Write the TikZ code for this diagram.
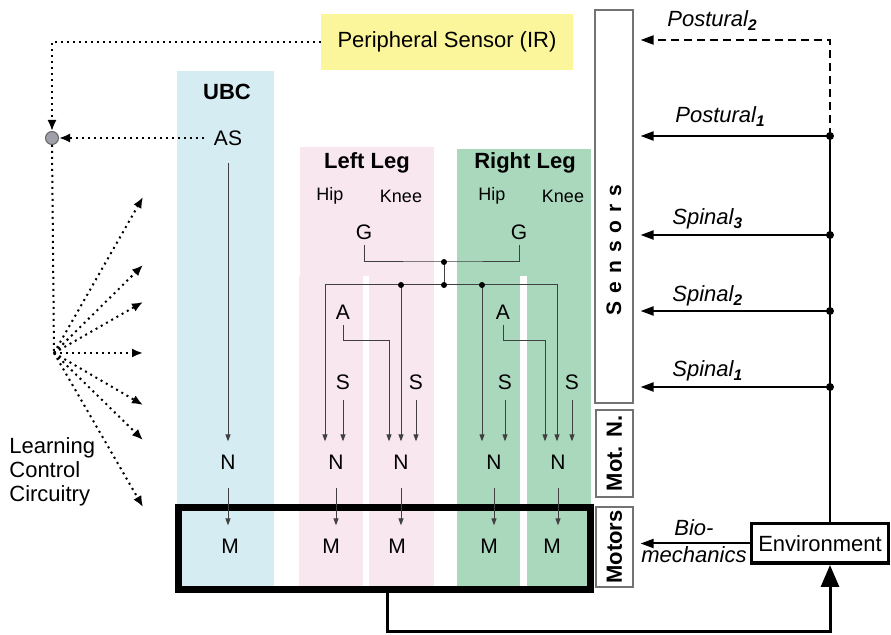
\documentclass[tikz,border=0pt]{standalone}
\usepackage{fontspec}
\setmainfont{Liberation Sans}
\usetikzlibrary{arrows.meta}

\definecolor{ubcblue}{RGB}{214,236,243}
\definecolor{legpink}{RGB}{249,231,240}
\definecolor{leggreen}{RGB}{170,216,189}
\definecolor{iryellow}{RGB}{251,245,155}
\definecolor{hubgray}{RGB}{160,160,170}

\begin{document}
\begin{tikzpicture}[x=0.5pt,y=-0.5pt,
    txt/.style={font=\fontsize{10.5}{12}\selectfont,inner sep=2pt},
    cell/.style={txt,inner xsep=2pt,inner ysep=6.5pt},
    gate/.style={txt,inner sep=2.6pt},
    sns/.style={txt,inner sep=5pt},
    joint/.style={font=\fontsize{9}{11}\selectfont,inner sep=2pt},
    title/.style={font=\bfseries\fontsize{11}{13}\selectfont,inner sep=2pt},
    sig/.style={font=\itshape\fontsize{11}{13}\selectfont,inner sep=2pt},
    panel/.style={draw=black!55,line width=0.6pt,inner sep=0pt},
    wire/.style={draw=black!75,line width=0.5pt,-{Triangle[length=3.5pt,width=2.5pt]}},
    link/.style={draw=black!75,line width=0.5pt},
    dot/.style={circle,fill=black,inner sep=0pt,minimum size=3pt},
    bigdot/.style={circle,fill=black,inner sep=0pt,minimum size=4pt},
    feed/.style={line width=1pt,-{Triangle[length=6.5pt,width=4.5pt]},shorten >=3.5pt},
    learn/.style={line width=1pt,dash pattern=on 1pt off 2pt,-{Latex[length=5.5pt,width=4.5pt]}}]

    \useasboundingbox (0,0) rectangle (891,635);
    % bands ==================================================
    \fill[ubcblue]  (177,71)  rectangle (274,586);
    \fill[legpink]  (300,147) rectangle (434,276);
    \fill[legpink]  (299,276) rectangle (363,586);
    \fill[legpink]  (369,276) rectangle (434,586);
    \fill[leggreen] (457,149) rectangle (591,276);
    \fill[leggreen] (457,276) rectangle (520,586);
    \fill[leggreen] (527,276) rectangle (591,586);
    % learning loop ==========================================
    \node[txt,fill=iryellow,minimum width=126pt,minimum height=28pt,font=\fontsize{11}{13}\selectfont] (PS) at (447,42) {Peripheral Sensor (IR)};
    \node[circle,draw=black!60,fill=hubgray,inner sep=0pt,minimum size=6.5pt,line width=0.5pt] (hub) at (52,138) {};
    \coordinate (fan) at (54,353);
    \node[txt,font=\fontsize{11}{12}\selectfont,align=left,anchor=west] (LCC) at (5,472) {Learning\\Control\\Circuitry};
    % UBC ====================================================
    \node[title] (UBC) at (227,92)  {UBC};
    \node[cell]  (AS)  at (228,138) {AS};
    \node[cell]  (N0)  at (228,462) {N};
    \node[cell]  (M0)  at (230,546) {M};
    % legs ===================================================
    \node[title] (LL)    at (367,163) {Left Leg};
    \node[title] (RL)    at (525,163) {Right Leg};
    \node[joint] (LHip)  at (330,196) {Hip};
    \node[joint] (LKnee) at (401,196) {Knee};
    \node[joint] (RHip)  at (492,196) {Hip};
    \node[joint] (RKnee) at (563,196) {Knee};
    \node[gate]  (LG)    at (364,232) {G};
    \node[gate]  (RG)    at (519,232) {G};
    \node[gate]  (LA)    at (343,312) {A};
    \node[gate]  (RA)    at (503,312) {A};
    \node[sns]   (LS1)   at (343,382) {S};
    \node[sns]   (LS2)   at (416,382) {S};
    \node[sns]   (RS1)   at (505,382) {S};
    \node[sns]   (RS2)   at (572,382) {S};
    \node[cell]  (N1)    at (336,462) {N};
    \node[cell]  (N2)    at (401,462) {N};
    \node[cell]  (N3)    at (494,462) {N};
    \node[cell]  (N4)    at (558,462) {N};
    \node[cell]  (M1)    at (331,546) {M};
    \node[cell]  (M2)    at (397,546) {M};
    \node[cell]  (M3)    at (489,546) {M};
    \node[cell]  (M4)    at (552,546) {M};
    \node[draw,line width=3.5pt,inner sep=0pt,minimum width=206pt,minimum height=40.75pt] (MG) at (384.5,548.75) {};
    % sensors side ===========================================
    \node[panel,minimum width=19pt,minimum height=196.5pt] (SensB) at (614,206.5) {};
    \node[font=\bfseries\fontsize{10.5}{12}\selectfont,rotate=90,inner sep=0pt] (SensT) at (614,250) {\addfontfeature{LetterSpace=38}Sensors};
    \node[panel,rotate=90,minimum width=43.5pt,minimum height=18.5pt,font=\bfseries\fontsize{11}{13}\selectfont] (MotN) at (614.5,453.5) {Mot. N.};
    \node[panel,rotate=90,minimum width=40pt,minimum height=18.5pt,font=\bfseries\fontsize{11}{13}\selectfont] (MotB) at (614.5,547) {Motors};
    \node[draw,line width=1.75pt,minimum width=67.25pt,minimum height=19.75pt,font=\fontsize{11}{13}\selectfont] (Env) at (820,543.5) {Environment};
    \node[sig,align=center,font=\itshape\fontsize{11}{13.5}\selectfont] (bio) at (694,541) {Bio-\\mechanics};
    \node[sig,anchor=base west] (P2) at (663,27)  {Postural\textsubscript{\textbf{2}}};
    \node[sig,anchor=base west] (P1) at (671,123) {Postural\textsubscript{\textbf{1}}};
    \node[sig,anchor=base west] (S3) at (668,225) {Spinal\textsubscript{\textbf{3}}};
    \node[sig,anchor=base west] (S2) at (668,302) {Spinal\textsubscript{\textbf{2}}};
    \node[sig,anchor=base west] (S1) at (668,377) {Spinal\textsubscript{\textbf{1}}};
    % learning connectors
    \draw[learn] (PS.west) -| (hub.north);
    \draw[learn,shorten <=3pt] (AS.west) -- (hub.east);
    \draw[learn,-] (hub.south) -- (fan);
    \foreach \y [count=\i] in {197,265,302,353,405,440,507}{
        \coordinate (lc\i) at (143,\y);
        \draw[learn] (fan) -- (lc\i);}
    % UBC wiring
    \draw[wire,shorten <=2pt] (AS.south) -- (N0.north);
    \draw[wire,shorten <=2.5pt] (N0.south) -- (N0.south |- M0.north);
    % leg wiring
    \coordinate (gj) at (444,262);
    \coordinate (hj) at (444,285);
    \coordinate (lb) at (325,285); \coordinate (rb) at (557,285);
    \coordinate (b2) at (401,285); \coordinate (b3) at (482,285);
    \coordinate (la) at (389,341); \coordinate (ra) at (545,341);
    \draw[link] (LG.south) |- (gj) -| (RG.south);
    \draw[link] (gj) -- (hj);
    \draw[wire] (hj) -| (lb |- N1.north);
    \draw[wire] (hj) -| (rb |- N4.north);
    \draw[wire] (b2) -- (b2 |- N2.north);
    \draw[wire] (b3) -- (b3 |- N3.north);
    \draw[wire] (LA.south) |- (la) -- (la |- N2.north);
    \draw[wire] (RA.south) |- (ra) -- (ra |- N4.north);
    \draw[wire] (LS1.south) -- (LS1.south |- N1.north);
    \draw[wire] (LS2.south) -- (LS2.south |- N2.north);
    \draw[wire] (RS1.south) -- (RS1.south |- N3.north);
    \draw[wire] (RS2.south) -- (RS2.south |- N4.north);
    \foreach \n in {1,...,4} \draw[wire,shorten <=2.5pt] (N\n.south) -- (N\n.south |- M\n.north);
    \foreach \p in {gj,hj,b2,b3} \node[dot] at (\p) {};
    % feedback ===============================================
    \coordinate (pt1) at (830,136);
    \coordinate (pt2) at (830,40);
    \coordinate (sp3) at (830,235);
    \coordinate (sp2) at (830,311);
    \coordinate (sp1) at (830,387);
    \coordinate (fb)  at (387,632);
    \draw[line width=1.5pt,-{Triangle[length=11pt,width=9pt]}] (MG.south -| fb) -- (fb) -| (Env.south -| pt1);
    \draw[line width=1pt] (Env.north -| pt1) -- (pt1);
    \draw[feed] (Env.west) -- (Env.west -| SensB.east);
    \foreach \p in {pt1,sp3,sp2,sp1} {\draw[feed] (\p) -- (\p -| SensB.east); \node[bigdot] at (\p) {};}
    \draw[feed,dash pattern=on 4pt off 2.5pt] (pt1) -- (pt2) -- (pt2 -| SensB.east);
\end{tikzpicture}
\end{document}
